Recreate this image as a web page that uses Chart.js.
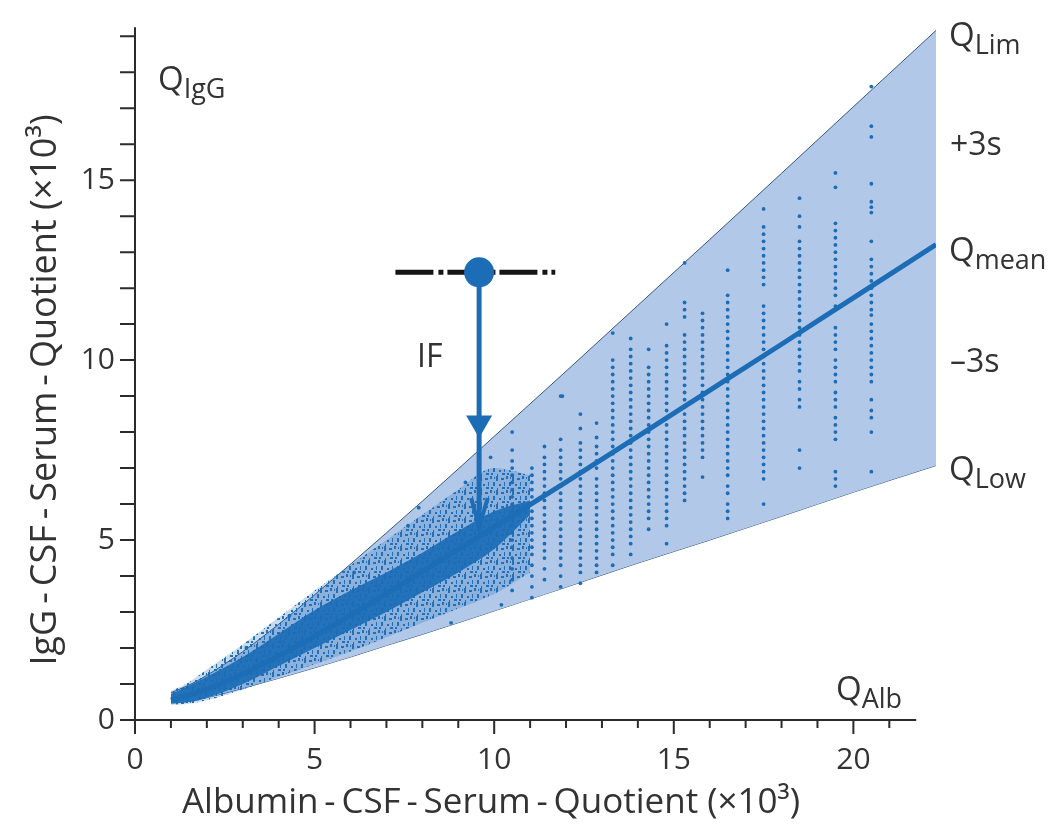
<!DOCTYPE html>
<html>
<head>
<meta charset="utf-8">
<script src="https://cdn.jsdelivr.net/npm/chart.js@4.4.1/dist/chart.umd.min.js"></script>
<style>
  html, body { margin: 0; background: #fff; }
</style>
</head>
<body>
<canvas id="chart" width="1048" height="824"></canvas>
<script>
// ---- data (units x10^3) ----
const bandX = [1, 1.5, 2, 3, 4, 5, 6, 7, 8, 10, 12, 14, 16, 18, 20, 22.3];
const qLim  = [0.76, 0.97, 1.24, 1.90, 2.66, 3.48, 4.33, 5.20, 6.08, 7.88, 9.69, 11.52, 13.35, 15.19, 17.04, 19.16];
const qLow  = [0.6, 0.52, 0.62, 0.88, 1.16, 1.45, 1.75, 2.07, 2.38, 3.03, 3.69, 4.36, 5.0, 5.66, 6.33, 7.07];

const meanX = [1, 2, 3, 4, 5, 6, 7, 8, 10, 12, 14, 16, 18, 20, 22.3];
const qMean = [0.55, 0.85, 1.28, 1.78, 2.33, 2.91, 3.51, 4.12, 5.36, 6.61, 7.88, 9.16, 10.44, 11.73, 13.21];

// dense patient cloud (outline of the speckled halo and the solid core)
const cloudX     = [1, 1.5, 2, 3, 4, 5, 6, 7, 8, 9, 10, 11];
const haloUpper  = [0.8, 1.05, 1.4, 2.1, 2.85, 3.6, 4.3, 5.0, 5.7, 6.4, 7.0, 6.8];
const haloLower  = [0.42, 0.45, 0.55, 0.85, 1.2, 1.55, 1.9, 2.3, 2.7, 3.1, 3.5, 4.1];
const coreUpper  = [0.72, 0.95, 1.2, 1.75, 2.4, 3.05, 3.6, 4.1, 4.65, 5.25, 5.8, 6.1];
const coreLower  = [0.45, 0.5, 0.62, 1.0, 1.5, 2.0, 2.5, 3.0, 3.55, 4.1, 4.75, 5.7];

// vertical columns of single patient dots at higher QAlb
const colX = [10.5, 11.05, 11.4, 11.85, 12.4, 12.85, 13.3, 13.8, 14.3, 14.8, 15.3, 15.8, 16.5, 17.5, 18.5, 19.5, 20.5];
const colY = [
  [8.0, 7.5, 7.2, 7.0, 6.8, 6.6, 6.4, 6.2, 6.0, 5.8, 5.6, 5.4, 5.2, 5.0, 4.8, 4.5, 4.2, 3.9, 3.6],
  [7.0, 6.8, 6.6, 6.4, 6.2, 6.0, 5.8, 5.6, 5.4, 5.2, 5.0, 4.8, 4.6, 4.3, 4.0, 3.7, 3.4],
  [7.6, 7.3, 7.1, 6.9, 6.7, 6.5, 6.3, 6.1, 5.9, 5.7, 5.5, 5.3, 5.1, 4.9, 4.7, 4.5, 4.2, 3.9],
  [9.0, 7.8, 7.5, 7.3, 7.1, 6.9, 6.7, 6.5, 6.3, 6.1, 5.9, 5.7, 5.5, 5.3, 5.1, 4.9, 4.7, 4.5, 4.3, 4.0, 3.7],
  [8.5, 8.1, 7.7, 7.5, 7.3, 7.1, 6.9, 6.7, 6.5, 6.3, 6.1, 5.9, 5.7, 5.5, 5.3, 5.1, 4.9, 4.7, 4.5, 4.3, 4.1, 3.8],
  [8.25, 7.85, 7.6, 7.4, 7.2, 7.0, 6.7, 6.5, 6.3, 6.1, 5.9, 5.7, 5.5, 5.3, 5.1, 4.9, 4.7, 4.5, 4.3, 4.1],
  [10.75, 10.0, 9.8, 9.6, 9.4, 9.2, 9.0, 8.8, 8.6, 8.4, 8.2, 8.0, 7.8, 7.6, 7.4, 7.2, 7.0, 6.8, 6.6, 6.4, 6.2, 6.0, 5.8, 5.6, 5.4, 5.2, 5.0, 4.8, 4.6, 4.3],
  [10.6, 10.3, 10.1, 9.9, 9.7, 9.5, 9.3, 9.1, 8.9, 8.7, 8.5, 8.3, 8.1, 7.9, 7.7, 7.5, 7.3, 7.1, 6.9, 6.7, 6.5, 6.3, 6.1, 5.9, 5.7, 5.5, 5.3, 5.1, 4.9, 4.6],
  [10.3, 9.8, 9.6, 9.4, 9.2, 9.0, 8.8, 8.6, 8.4, 8.2, 8.0, 7.8, 7.6, 7.4, 7.2, 7.0, 6.8, 6.6, 6.4, 6.2, 6.0, 5.8, 5.6, 5.3],
  [11.0, 10.4, 10.2, 10.0, 9.8, 9.6, 9.4, 9.2, 9.0, 8.8, 8.6, 8.4, 8.2, 8.0, 7.8, 7.6, 7.4, 7.2, 7.0, 6.8, 6.6, 6.4, 6.2, 6.0, 5.8, 5.6, 5.4, 4.9],
  [12.7, 11.6, 11.4, 11.2, 10.7, 10.5, 10.3, 10.1, 9.9, 9.7, 9.5, 9.3, 9.1, 8.9, 8.7, 8.5, 8.3, 8.1, 7.9, 7.7, 7.5, 7.3, 7.1, 6.9, 6.7, 6.5, 6.3, 6.1],
  [11.3, 11.1, 10.9, 10.7, 10.5, 10.3, 10.1, 9.9, 9.7, 9.5, 9.3, 9.1, 8.9, 8.7, 8.5, 8.3, 8.1, 7.9, 7.7, 7.5, 7.3, 6.75],
  [12.5, 11.8, 11.6, 11.4, 11.2, 11.0, 10.8, 10.6, 10.4, 10.2, 10.0, 9.8, 9.6, 9.4, 9.2, 9.0, 8.8, 8.6, 8.4, 8.2, 8.0, 7.8, 7.6, 7.4, 7.2, 7.0, 6.8, 6.5, 6.3, 6.0, 5.8, 5.6],
  [14.2, 13.7, 13.5, 13.3, 13.1, 12.9, 12.7, 12.5, 12.3, 12.1, 11.5, 11.3, 11.1, 10.9, 10.7, 10.5, 10.3, 10.1, 9.9, 9.7, 9.5, 9.3, 9.1, 8.9, 8.7, 8.5, 8.3, 8.1, 7.9, 7.7, 7.5, 7.3, 7.1, 6.9, 6.7, 6.0],
  [14.5, 14.0, 13.7, 13.3, 13.1, 12.9, 12.7, 12.5, 12.3, 12.1, 11.9, 11.7, 11.5, 11.3, 11.1, 10.9, 10.7, 10.5, 10.3, 10.1, 9.9, 9.7, 9.4, 9.2, 8.9, 8.7, 7.5, 7.0],
  [15.2, 14.8, 13.8, 13.6, 13.4, 13.2, 13.0, 12.8, 12.6, 12.4, 12.2, 12.0, 11.8, 11.5, 10.9, 10.7, 10.5, 10.3, 10.0, 9.8, 9.6, 9.4, 9.1, 8.9, 8.7, 8.4, 8.2, 8.0, 7.8, 6.9, 6.7, 6.5],
  [17.6, 16.5, 16.2, 14.9, 14.4, 14.25, 14.1, 13.3, 12.8, 12.6, 12.4, 12.2, 12.0, 11.8, 11.6, 11.4, 11.25, 11.0, 10.8, 10.6, 10.4, 10.2, 10.0, 9.8, 9.6, 9.4, 8.9, 8.6, 8.4, 8.0, 6.9]
];
// a few stray dots inside the band
const strayX = [11.9, 9.9, 7.6, 6.1, 4.3, 3.1, 8.8, 10.2, 9.2, 7.9];
const strayY = [9.0, 7.3, 5.4, 4.1, 2.9, 2.0, 2.7, 3.2, 6.6, 5.9];

// intrathecal fraction example: patient point, its range and the arrow to Q_mean
const patient     = { x: 9.58, y: 12.44 };
const patientSpan = [7.25, 11.7];
const arrowEnd    = 5.36;
const arrowHeadY  = 8.25;
const arrowTipX   = [9.36, 9.58, 9.82];
const arrowTipY   = [6.17, 5.36, 6.17];

const xTickVals = [0,1,2,3,4,5,6,7,8,9,10,11,12,13,14,15,16,17,18,19,20,21];
const yTickVals = [0,1,2,3,4,5,6,7,8,9,10,11,12,13,14,15,16,17,18,19];
const xLabelVals = [0, 5, 10, 15, 20];
const yLabelVals = [0, 5, 10, 15];

// ---- helpers ----
const pts = (xs, ys) => xs.map((x, i) => ({ x: x, y: ys[i] }));
const colPoints = colX.flatMap((x, i) => colY[i].map(y => ({ x: x, y: y })));

const FONT = '"Open Sans", "Noto Sans", sans-serif';
const BLUE = '#1c6db6';
const TEXT = '#333333';

// speckled texture for the loose part of the cloud
function speckle() {
    const c = document.createElement('canvas');
    c.width = 16; c.height = 14;
    const g = c.getContext('2d');
    g.fillStyle = 'rgba(28,109,182,0.25)';
    g.fillRect(0, 0, 16, 14);
    g.fillStyle = 'rgba(28,109,182,0.95)';
    [[0, 0, 2, 5], [5, 2, 3, 2], [10, 0, 2, 3], [13, 6, 2, 4], [3, 8, 2, 2],
     [8, 6, 1, 4], [6, 11, 3, 2], [11, 11, 2, 2], [1, 12, 1, 2], [14, 1, 1, 2]]
        .forEach(r => g.fillRect(r[0], r[1], r[2], r[3]));
    return g.createPattern(c, 'repeat');
}

const HS = '\u2009-\u2009';

function drawQ(ctx, x, y, sub) {
    ctx.font = '33px ' + FONT;
    ctx.fillText('Q', x, y);
    const w = ctx.measureText('Q').width;
    ctx.font = '27px ' + FONT;
    ctx.fillText(sub, x + w, y + 8);
}

// axes, tick marks and text labels drawn on top of the chart
const decorPlugin = {
    id: 'decor',
    afterDraw(chart) {
        const ctx = chart.ctx;
        const xs = chart.scales.x, ys = chart.scales.y;
        const x0 = xs.getPixelForValue(0), y0 = ys.getPixelForValue(0);

        ctx.save();
        ctx.strokeStyle = '#2b2b2b';
        ctx.lineWidth = 2;
        ctx.beginPath();
        ctx.moveTo(x0 - 15, y0);
        ctx.lineTo(xs.getPixelForValue(21.75), y0);
        ctx.moveTo(x0, y0);
        ctx.lineTo(x0, ys.getPixelForValue(19.25));
        xTickVals.forEach(v => {
            const px = xs.getPixelForValue(v);
            ctx.moveTo(px, y0);
            ctx.lineTo(px, y0 + (v % 5 === 0 ? 14 : 8));
        });
        yTickVals.forEach(v => {
            const py = ys.getPixelForValue(v);
            ctx.moveTo(x0 - 15, py);
            ctx.lineTo(x0, py);
        });
        ctx.stroke();

        ctx.fillStyle = TEXT;
        ctx.textBaseline = 'alphabetic';
        ctx.textAlign = 'left';

        drawQ(ctx, 158, 90, 'IgG');
        drawQ(ctx, 949, 46, 'Lim');
        drawQ(ctx, 949, 261, 'mean');
        drawQ(ctx, 949, 480, 'Low');
        drawQ(ctx, 836, 700, 'Alb');

        ctx.font = '32px ' + FONT;
        ctx.fillText('+3s', 950, 155);
        ctx.fillText('\u20133s', 950, 372);
        ctx.fillText('IF', 417, 367);

        // axis titles
        ctx.font = '35px ' + FONT;
        ctx.textAlign = 'center';
        ctx.fillText('Albumin' + HS + 'CSF' + HS + 'Serum' + HS + 'Quotient (\u00d710\u00b3)', 491, 813);
        ctx.translate(56, 390);
        ctx.rotate(-Math.PI / 2);
        ctx.font = '36px ' + FONT;
        ctx.fillText('IgG' + HS + 'CSF' + HS + 'Serum' + HS + 'Quotient (\u00d710\u00b3)', 0, 0);
        ctx.restore();
    }
};

const ctx = document.getElementById('chart');

new Chart(ctx, {
    type: 'scatter',
    data: {
        datasets: [
            // 0/1: reference band Q_Lim .. Q_Low
            {
                type: 'line', data: pts(bandX, qLim), order: 10,
                borderColor: '#34587f', borderWidth: 1, pointRadius: 0,
                cubicInterpolationMode: 'monotone',
                fill: '+1', backgroundColor: '#b1c8e8'
            },
            {
                type: 'line', data: pts(bandX, qLow), order: 10,
                borderColor: '#34587f', borderWidth: 1, pointRadius: 0,
                cubicInterpolationMode: 'monotone', fill: false
            },
            // 2/3: speckled halo of the patient cloud
            {
                type: 'line', data: pts(cloudX, haloUpper), order: 9,
                borderWidth: 0, pointRadius: 0, cubicInterpolationMode: 'monotone',
                fill: '+1', backgroundColor: speckle()
            },
            {
                type: 'line', data: pts(cloudX, haloLower), order: 9,
                borderWidth: 0, pointRadius: 0, cubicInterpolationMode: 'monotone', fill: false
            },
            // 4/5: solid core of the cloud
            {
                type: 'line', data: pts(cloudX, coreUpper), order: 8,
                borderWidth: 0, pointRadius: 0, cubicInterpolationMode: 'monotone',
                fill: '+1', backgroundColor: 'rgba(28,109,182,0.93)'
            },
            {
                type: 'line', data: pts(cloudX, coreLower), order: 8,
                borderWidth: 0, pointRadius: 0, cubicInterpolationMode: 'monotone', fill: false
            },
            // single dots
            {
                data: colPoints.concat(pts(strayX, strayY)), order: 7,
                pointRadius: 1.9, pointBackgroundColor: BLUE, pointBorderWidth: 0
            },
            // Q_mean
            {
                type: 'line', data: pts(meanX, qMean), order: 6,
                borderColor: BLUE, borderWidth: 5, pointRadius: 0,
                cubicInterpolationMode: 'monotone', fill: false
            },
            // patient range (dash-dot)
            {
                type: 'line', data: pts(patientSpan, [patient.y, patient.y]), order: 5,
                borderColor: '#151515', borderWidth: 5, borderDash: [38, 5, 5, 4],
                pointRadius: 0, fill: false
            },
            // arrow shaft
            {
                type: 'line', data: pts([patient.x, patient.x], [patient.y, arrowEnd]), order: 4,
                borderColor: BLUE, borderWidth: 5, pointRadius: 0, fill: false
            },
            // arrow head
            {
                data: [{ x: patient.x, y: arrowHeadY }], order: 3,
                pointStyle: 'triangle', rotation: 180, pointRadius: 15,
                pointBackgroundColor: BLUE, pointBorderWidth: 0
            },
            // arrow tip (V)
            {
                type: 'line', data: pts(arrowTipX, arrowTipY), order: 3,
                borderColor: BLUE, borderWidth: 4, pointRadius: 0, fill: false
            },
            // patient point
            {
                data: [patient], order: 1,
                pointRadius: 15, pointBackgroundColor: BLUE, pointBorderWidth: 0
            }
        ]
    },
    options: {
        responsive: false,
        animation: false,
        events: [],
        layout: { padding: { left: 0, right: 112, top: 29, bottom: 0 } },
        plugins: { legend: { display: false }, tooltip: { enabled: false } },
        scales: {
            x: {
                type: 'linear', min: 0, max: 22.3,
                afterFit: s => { s.height = 104; s.paddingLeft = 0; s.paddingRight = 0; },
                afterBuildTicks: s => { s.ticks = xLabelVals.map(v => ({ value: v })); },
                grid: { display: false, drawTicks: false },
                border: { display: false },
                ticks: {
                    autoSkip: false, maxRotation: 0, padding: 22,
                    color: TEXT, font: { family: FONT, size: 30 }
                }
            },
            y: {
                type: 'linear', min: 0, max: 19.2,
                afterFit: s => { s.width = 135; s.paddingTop = 0; s.paddingBottom = 0; },
                afterBuildTicks: s => { s.ticks = yLabelVals.map(v => ({ value: v })); },
                grid: { display: false, drawTicks: false },
                border: { display: false },
                ticks: {
                    autoSkip: false, padding: 20,
                    color: TEXT, font: { family: FONT, size: 30 }
                }
            }
        }
    },
    plugins: [decorPlugin]
});
</script>
</body>
</html>
